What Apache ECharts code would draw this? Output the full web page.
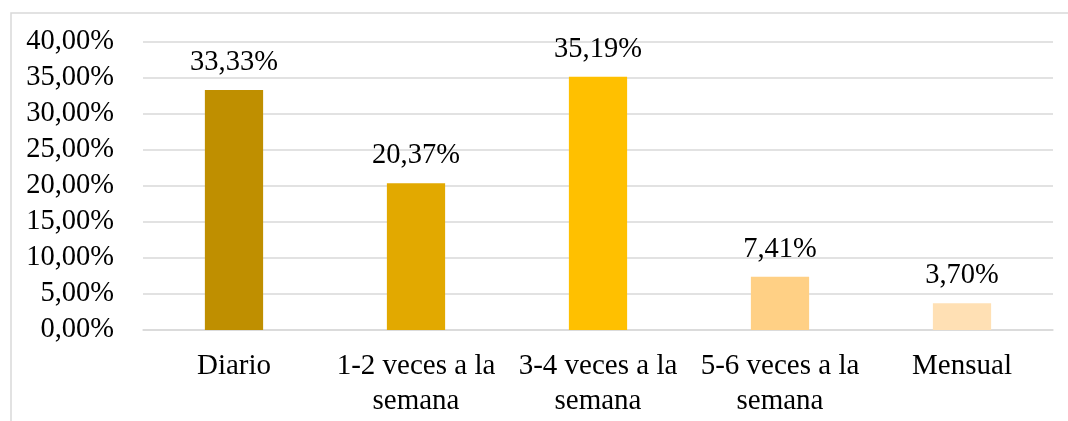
<!DOCTYPE html>
<html>
<head>
<meta charset="utf-8">
<script src="https://cdn.jsdelivr.net/npm/echarts@6/dist/echarts.min.js"></script>
<style>
html, body { margin: 0; padding: 0; background: #fff; }
#main { width: 1068px; height: 421px; }
</style>
</head>
<body>
<div id="main"></div>
<script>
// datos del gráfico
var categorias = ['Diario', '1-2 veces a la semana', '3-4 veces a la semana', '5-6 veces a la semana', 'Mensual'];
var valores = [33.33, 20.37, 35.19, 7.41, 3.70];
var colores = ['#BF8F00', '#E2A900', '#FFC000', '#FFD085', '#FFE0B4'];

var fuente = "'Liberation Serif', 'Times New Roman', serif";

var myChart = echarts.init(document.getElementById('main'));

var option = {
    animation: false,
    graphic: [{
        type: 'rect',
        shape: { x: 11, y: 13, width: 1200, height: 600 },
        style: { fill: 'none', stroke: '#D9D9D9', lineWidth: 1.5 },
        silent: true
    }],
    grid: {
        left: 143,
        right: 15,
        top: 42,
        bottom: 91
    },
    xAxis: {
        type: 'category',
        data: categorias,
        axisLine: { lineStyle: { color: '#D9D9D9', width: 1.5 } },
        axisTick: { show: false },
        axisLabel: {
            interval: 0,
            margin: 19,
            color: '#000',
            fontFamily: fuente,
            fontSize: 29,
            lineHeight: 35,
            formatter: function (v) {
                return v.replace(' a la ', ' a la\n');
            }
        }
    },
    yAxis: {
        type: 'value',
        min: 0,
        max: 40,
        interval: 5,
        axisLine: { show: false },
        axisTick: { show: false },
        splitLine: { lineStyle: { color: '#D9D9D9', width: 1.5 } },
        axisLabel: {
            margin: 29,
            color: '#000',
            fontFamily: fuente,
            fontSize: 28.5,
            formatter: function (v) {
                return v.toFixed(2).replace('.', ',') + '%';
            }
        }
    },
    series: [{
        type: 'bar',
        barWidth: '32%',
        data: valores.map(function (v, i) {
            return { value: v, itemStyle: { color: colores[i] } };
        }),
        label: {
            show: true,
            position: 'top',
            distance: 13,
            color: '#000',
            fontFamily: fuente,
            fontSize: 28.5,
            formatter: function (p) {
                return p.value.toFixed(2).replace('.', ',') + '%';
            }
        }
    }]
};

myChart.setOption(option);
</script>
</body>
</html>
